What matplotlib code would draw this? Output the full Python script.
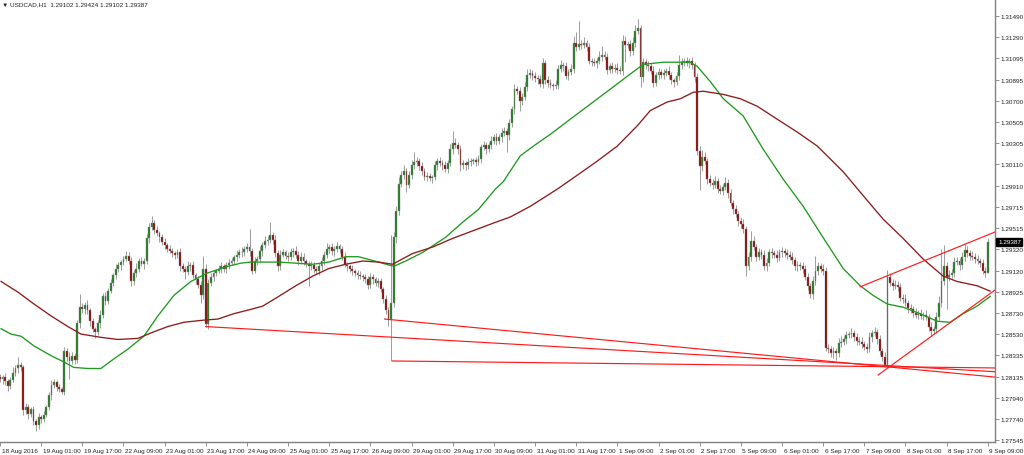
"""USDCAD H1 candles, 18 Aug - 9 Sep 2016, with two moving averages and drawn trendlines."""

import numpy as np
import matplotlib
matplotlib.use("Agg")
import matplotlib.pyplot as plt
import matplotlib.transforms as mtransforms

# ─── data ───────────────────────────────────────────────────────────────────
first_open = 1.2813

closes = [
    1.2811, 1.2813, 1.2809, 1.2805, 1.2810, 1.2817, 1.2821, 1.2824, 1.2822, 1.2782, 1.2785, 1.2779, 1.2783, 1.2772, 1.2768, 1.2776,
    1.2774, 1.2778, 1.2785, 1.2796, 1.2806, 1.2808, 1.2804, 1.2802, 1.2799, 1.2837, 1.2832, 1.2828, 1.2833, 1.2829, 1.2863, 1.2878,
    1.2876, 1.2880, 1.2875, 1.2865, 1.2858, 1.2855, 1.2863, 1.2871, 1.2888, 1.2884, 1.2893, 1.2901, 1.2908, 1.2914, 1.2917, 1.2920,
    1.2923, 1.2926, 1.2921, 1.2902, 1.2910, 1.2914, 1.2921, 1.2918, 1.2921, 1.2942, 1.2953, 1.2956, 1.2950, 1.2947, 1.2943, 1.2939,
    1.2936, 1.2932, 1.2930, 1.2928, 1.2927, 1.2929, 1.2916, 1.2914, 1.2911, 1.2916, 1.2917, 1.2908, 1.2904, 1.2899, 1.2889, 1.2914,
    1.2862, 1.2901, 1.2906, 1.2910, 1.2912, 1.2914, 1.2916, 1.2914, 1.2917, 1.2919, 1.2921, 1.2925, 1.2927, 1.2929, 1.2929, 1.2932,
    1.2934, 1.2930, 1.2912, 1.2921, 1.2923, 1.2930, 1.2936, 1.2940, 1.2941, 1.2945, 1.2941, 1.2928, 1.2916, 1.2927, 1.2929, 1.2926,
    1.2925, 1.2929, 1.2930, 1.2927, 1.2921, 1.2925, 1.2921, 1.2918, 1.2916, 1.2917, 1.2914, 1.2912, 1.2916, 1.2921, 1.2927, 1.2932,
    1.2934, 1.2930, 1.2932, 1.2935, 1.2932, 1.2925, 1.2917, 1.2916, 1.2914, 1.2912, 1.2910, 1.2908, 1.2907, 1.2906, 1.2904, 1.2899,
    1.2906, 1.2904, 1.2901, 1.2902, 1.2895, 1.2886, 1.2875, 1.2867, 1.2882, 1.2943, 1.2968, 1.2993, 1.3001, 1.3005, 1.2992, 1.3001,
    1.3010, 1.3013, 1.3014, 1.3009, 1.3005, 1.2999, 1.3000, 1.2998, 1.2999, 1.3010, 1.3014, 1.3012, 1.3010, 1.3007, 1.3012, 1.3025,
    1.3031, 1.3029, 1.3025, 1.3010, 1.3012, 1.3010, 1.3013, 1.3014, 1.3015, 1.3013, 1.3016, 1.3027, 1.3029, 1.3025, 1.3029, 1.3033,
    1.3036, 1.3033, 1.3036, 1.3040, 1.3042, 1.3038, 1.3049, 1.3062, 1.3081, 1.3079, 1.3070, 1.3074, 1.3083, 1.3094, 1.3096, 1.3093,
    1.3091, 1.3090, 1.3086, 1.3105, 1.3089, 1.3087, 1.3085, 1.3084, 1.3085, 1.3100, 1.3103, 1.3102, 1.3093, 1.3097, 1.3100, 1.3124,
    1.3120, 1.3123, 1.3122, 1.3124, 1.3120, 1.3107, 1.3106, 1.3105, 1.3107, 1.3111, 1.3113, 1.3111, 1.3099, 1.3102, 1.3100, 1.3101,
    1.3099, 1.3098, 1.3126, 1.3122, 1.3123, 1.3116, 1.3124, 1.3135, 1.3138, 1.3092, 1.3106, 1.3103, 1.3102, 1.3098, 1.3087, 1.3094,
    1.3097, 1.3094, 1.3096, 1.3098, 1.3094, 1.3089, 1.3088, 1.3093, 1.3103, 1.3106, 1.3107, 1.3105, 1.3107, 1.3103, 1.3092, 1.3023,
    1.3009, 1.3018, 1.3014, 1.2997, 1.2994, 1.2992, 1.2995, 1.2988, 1.2986, 1.2990, 1.2994, 1.2984, 1.2975, 1.2969, 1.2965, 1.2958,
    1.2955, 1.2951, 1.2916, 1.2925, 1.2940, 1.2934, 1.2925, 1.2929, 1.2927, 1.2916, 1.2919, 1.2929, 1.2928, 1.2927, 1.2924, 1.2929,
    1.2930, 1.2928, 1.2927, 1.2925, 1.2922, 1.2916, 1.2917, 1.2916, 1.2914, 1.2906, 1.2898, 1.2890, 1.2902, 1.2912, 1.2916, 1.2914,
    1.2912, 1.2840, 1.2839, 1.2835, 1.2837, 1.2835, 1.2845, 1.2846, 1.2848, 1.2852, 1.2853, 1.2854, 1.2850, 1.2847, 1.2846, 1.2844,
    1.2841, 1.2839, 1.2850, 1.2854, 1.2855, 1.2848, 1.2837, 1.2832, 1.2824, 1.2906, 1.2901, 1.2898, 1.2899, 1.2897, 1.2887, 1.2886,
    1.2882, 1.2877, 1.2876, 1.2873, 1.2871, 1.2872, 1.2870, 1.2871, 1.2869, 1.2860, 1.2856, 1.2858, 1.2869, 1.2882, 1.2902, 1.2916,
    1.2906, 1.2908, 1.2910, 1.2920, 1.2921, 1.2917, 1.2925, 1.2931, 1.2928, 1.2926, 1.2925, 1.2923, 1.2921, 1.2919, 1.2912, 1.29102,
    1.29387,
]

# wick lengths above / below the body, in pips
up_wick = [
    3, 2, 4, 2, 3, 5, 3, 8, 3, 2, 4, 3, 2, 3, 2, 4,
    2, 3, 2, 3, 4, 3, 2, 3, 2, 4, 3, 4, 3, 2, 3, 12,
    4, 3, 5, 2, 3, 2, 3, 4, 3, 4, 3, 3, 2, 4, 3, 2,
    3, 4, 3, 4, 3, 5, 3, 4, 3, 4, 3, 7, 3, 4, 2, 3,
    3, 2, 4, 3, 2, 3, 4, 3, 2, 5, 3, 4, 2, 3, 3, 12,
    4, 3, 4, 3, 2, 3, 4, 2, 3, 4, 3, 2, 4, 3, 5, 3,
    4, 17, 3, 4, 3, 5, 3, 4, 3, 12, 3, 4, 3, 4, 3, 2,
    3, 4, 3, 5, 3, 4, 3, 2, 3, 4, 3, 2, 3, 4, 3, 6,
    3, 4, 3, 4, 2, 3, 4, 3, 2, 3, 2, 3, 4, 2, 3, 3,
    4, 3, 2, 3, 3, 2, 3, 3, 63, 5, 4, 6, 4, 5, 3, 4,
    5, 9, 4, 3, 4, 3, 4, 3, 2, 4, 3, 4, 3, 4, 3, 5,
    11, 4, 3, 4, 3, 2, 4, 3, 2, 3, 4, 3, 4, 3, 3, 4,
    3, 4, 3, 5, 4, 3, 4, 3, 5, 3, 4, 3, 5, 6, 4, 3,
    4, 3, 4, 5, 3, 4, 3, 2, 4, 3, 5, 3, 4, 3, 4, 6,
    10, 21, 4, 5, 3, 4, 3, 4, 3, 5, 8, 3, 4, 3, 4, 3,
    4, 3, 5, 4, 3, 4, 5, 6, 8, 3, 4, 3, 4, 3, 4, 3,
    4, 3, 4, 3, 4, 3, 2, 4, 10, 4, 3, 4, 3, 4, 3, 4,
    5, 6, 4, 3, 4, 3, 5, 3, 4, 3, 5, 3, 4, 3, 4, 3,
    4, 5, 3, 4, 9, 4, 3, 4, 3, 4, 5, 3, 4, 3, 4, 3,
    4, 3, 4, 3, 4, 3, 4, 3, 4, 3, 4, 3, 5, 14, 4, 3,
    4, 3, 4, 3, 4, 3, 4, 5, 3, 4, 3, 5, 3, 4, 3, 4,
    3, 4, 5, 3, 5, 3, 4, 3, 4, 7, 4, 3, 4, 3, 4, 3,
    4, 3, 4, 3, 4, 3, 4, 3, 4, 3, 4, 3, 5, 6, 30, 20,
    4, 5, 4, 5, 4, 3, 4, 6, 4, 3, 4, 3, 4, 3, 4, 3,
    3.7,
]
dn_wick = [
    3, 4, 3, 5, 3, 2, 3, 4, 3, 4, 3, 5, 3, 4, 5, 3,
    4, 3, 2, 3, 4, 3, 4, 3, 2, 3, 4, 17, 3, 4, 3, 4,
    3, 4, 3, 4, 3, 6, 3, 4, 3, 4, 3, 2, 3, 4, 3, 4,
    3, 2, 3, 4, 3, 4, 3, 2, 4, 3, 4, 3, 4, 3, 4, 3,
    4, 3, 2, 3, 4, 3, 4, 3, 7, 3, 4, 3, 4, 3, 7, 3,
    2, 4, 3, 4, 3, 2, 4, 3, 4, 3, 2, 3, 4, 3, 4, 3,
    3, 4, 3, 2, 4, 3, 4, 3, 4, 3, 4, 3, 4, 3, 2, 3,
    4, 3, 4, 3, 4, 3, 4, 3, 18, 3, 4, 3, 4, 3, 4, 3,
    4, 3, 4, 3, 4, 3, 2, 4, 3, 4, 3, 4, 3, 4, 3, 4,
    3, 4, 3, 4, 3, 4, 3, 6, 39, 4, 5, 4, 3, 4, 7, 3,
    4, 3, 4, 3, 4, 3, 4, 3, 4, 3, 4, 3, 4, 3, 4, 3,
    4, 3, 4, 5, 3, 4, 3, 4, 3, 4, 3, 4, 3, 4, 3, 4,
    3, 4, 3, 4, 3, 16, 4, 3, 4, 3, 9, 4, 3, 4, 3, 4,
    3, 4, 3, 4, 3, 4, 3, 4, 3, 4, 3, 4, 3, 4, 3, 4,
    4, 3, 4, 3, 4, 3, 4, 3, 4, 3, 4, 3, 4, 3, 4, 3,
    4, 3, 4, 16, 3, 4, 3, 4, 3, 9, 4, 3, 4, 3, 4, 3,
    4, 3, 4, 3, 4, 3, 5, 3, 4, 3, 4, 3, 4, 3, 4, 3,
    22, 4, 3, 4, 3, 4, 3, 4, 3, 4, 3, 4, 3, 4, 3, 4,
    3, 4, 9, 3, 4, 3, 4, 3, 4, 3, 4, 3, 4, 3, 4, 3,
    4, 3, 4, 3, 4, 3, 4, 3, 4, 3, 4, 3, 4, 3, 4, 3,
    4, 3, 4, 3, 4, 6, 3, 4, 3, 4, 3, 4, 3, 4, 3, 4,
    3, 4, 3, 4, 3, 4, 3, 4, 2, 2, 3, 4, 3, 4, 3, 4,
    3, 4, 3, 4, 3, 4, 3, 4, 3, 4, 5, 3, 4, 3, 4, 3,
    30, 4, 3, 4, 3, 4, 3, 4, 3, 4, 3, 4, 3, 4, 3, 4,
    0,
]

# moving averages (bar index, price)
green_ma_bar = [0.4, 4.3, 8.2, 13.2, 19.8, 24.9, 28.7, 34.2, 39.2, 44.3, 49.7, 55.9, 61.4, 67.6,
                74.2, 80.8, 88.5, 93.6, 97.5, 108.3, 121.6, 127.8, 134.4, 139.4, 147.2, 153.0,
                157.7, 164.3, 173.2, 179.8, 186.0, 192.6, 195.7, 202.3, 207.4, 214.0, 221.7,
                229.5, 237.3, 245.0, 250.1, 257.9, 268.3, 271.1, 276.1, 281.2, 288.9, 296.7,
                304.5, 312.2, 320.2, 327.8, 334.4, 339.4, 344.9, 351.1, 357.7, 364.3, 369.3,
                374.4, 379.8, 384.9]
green_ma_val = [1.2858, 1.2853, 1.2851, 1.2842, 1.2833, 1.2827, 1.2822, 1.2821, 1.2821, 1.2830,
                1.2839, 1.2851, 1.2870, 1.2889, 1.2902, 1.2910, 1.2916, 1.2919, 1.2920, 1.2920,
                1.2918, 1.2920, 1.2925, 1.2925, 1.2920, 1.2916, 1.2921, 1.2929, 1.2943, 1.2957,
                1.2969, 1.2988, 1.2995, 1.3019, 1.3028, 1.3039, 1.3053, 1.3067, 1.3081, 1.3095,
                1.3104, 1.3106, 1.3106, 1.3102, 1.3088, 1.3072, 1.3056, 1.3025, 1.2997, 1.2972,
                1.2942, 1.2914, 1.2898, 1.2889, 1.2881, 1.2878, 1.2872, 1.2865, 1.2864, 1.2872,
                1.2879, 1.2888]

red_ma_bar = [0.4, 7.0, 13.2, 19.8, 26.4, 31.5, 39.2, 45.8, 53.6, 58.6, 65.2, 71.5, 79.2, 84.7,
              90.9, 97.5, 102.1, 108.3, 115.0, 121.6, 127.8, 134.4, 141.0, 147.2, 152.6, 160.4,
              168.2, 175.9, 183.7, 192.6, 198.4, 206.2, 216.7, 224.5, 232.2, 240.0, 247.8,
              252.8, 259.4, 264.5, 269.5, 273.4, 281.2, 287.8, 294.4, 302.1, 309.9, 317.7,
              327.8, 335.5, 343.3, 351.1, 358.8, 366.6, 372.0, 379.8, 384.9]
red_ma_val = [1.2902, 1.2892, 1.2881, 1.2870, 1.2860, 1.2853, 1.2850, 1.2848, 1.2849, 1.2854,
              1.2860, 1.2864, 1.2866, 1.2867, 1.2872, 1.2876, 1.2879, 1.2888, 1.2898, 1.2907,
              1.2914, 1.2918, 1.2921, 1.2920, 1.2918, 1.2928, 1.2934, 1.2942, 1.2949, 1.2957,
              1.2962, 1.2972, 1.2988, 1.3001, 1.3014, 1.3028, 1.3047, 1.3061, 1.3069, 1.3072,
              1.3078, 1.3079, 1.3076, 1.3072, 1.3065, 1.3053, 1.3041, 1.3028, 1.3004, 1.2982,
              1.2960, 1.2942, 1.2923, 1.2907, 1.2902, 1.2898, 1.2893]

# hand-drawn trendlines: start bar, start price, end bar, end price
trend_bar0 = [80.0, 149.5, 152.6, 334.4, 341.4]
trend_p0 = [1.2860, 1.2867, 1.2828, 1.2897, 1.2815]
trend_bar1 = [386.8, 386.8, 386.8, 386.8, 386.8]
trend_p1 = [1.2818, 1.2813, 1.28215, 1.2948, 1.2894]

xtick_labels = ["18 Aug 2016", "19 Aug 01:00", "19 Aug 17:00", "22 Aug 09:00", "23 Aug 01:00",
                "23 Aug 17:00", "24 Aug 09:00", "25 Aug 01:00", "25 Aug 17:00", "26 Aug 09:00",
                "29 Aug 01:00", "29 Aug 17:00", "30 Aug 09:00", "31 Aug 01:00", "31 Aug 17:00",
                "1 Sep 09:00", "2 Sep 01:00", "2 Sep 17:00", "5 Sep 09:00", "6 Sep 01:00",
                "6 Sep 17:00", "7 Sep 09:00", "8 Sep 01:00", "8 Sep 17:00", "9 Sep 09:00"]
ytick_vals = [1.31490, 1.31290, 1.31095, 1.30895, 1.30700, 1.30505, 1.30305, 1.30110, 1.29910,
              1.29715, 1.29515, 1.29320, 1.29120, 1.28925, 1.28730, 1.28530, 1.28335, 1.28135,
              1.27940, 1.27740, 1.27545]

last_price = 1.29387
header = "\u25bc USDCAD,H1  1.29102 1.29424 1.29102 1.29387"

# ─── style ───────────────────────────────────────────────────────────────────
plt.rcParams["font.family"] = ["Liberation Sans", "DejaVu Sans"]
BULL = "#1c7a1c"
BEAR = "#8b0000"
WICK = "#9c9c9c"
AXIS = "#808080"
FS = 4.6

# ─── plot ────────────────────────────────────────────────────────────────────
c = np.array(closes)
o = np.r_[first_open, c[:-1]]
top = np.maximum(o, c)
bot = np.minimum(o, c)
hi = top + np.array(up_wick) * 1e-4
lo = bot - np.array(dn_wick) * 1e-4
x = np.arange(len(c))
bull = c >= o
h = np.maximum(top - bot, 0.00003)

fig = plt.figure(figsize=(10.24, 4.56), dpi=100)
ax = fig.add_axes([0, 13 / 456, 995 / 1024, 443 / 456])

ax.vlines(x, lo, hi, color=WICK, lw=0.7, zorder=2)
ax.bar(x[bull], h[bull], bottom=bot[bull], width=0.72, color=BULL,
       edgecolor="#8a8a8a", linewidth=0.3, zorder=3)
ax.bar(x[~bull], h[~bull], bottom=bot[~bull], width=0.72, color=BEAR,
       edgecolor="#8a8a8a", linewidth=0.3, zorder=3)

ax.plot(green_ma_bar, green_ma_val, color="#1e9a1e", lw=0.95, zorder=4)
ax.plot(red_ma_bar, red_ma_val, color="#8e1b1b", lw=0.95, zorder=4)

for b0, p0, b1, p1 in zip(trend_bar0, trend_p0, trend_bar1, trend_p1):
    ax.plot([b0, b1], [p0, p1], color="#ff1a1a", lw=0.85, zorder=5)

ax.set_xlim(0.39, 386.8)
ax.set_ylim(1.27526, 1.31648)

for side in ("top", "left"):
    ax.spines[side].set_visible(False)
for side in ("right", "bottom"):
    ax.spines[side].set_color(AXIS)
    ax.spines[side].set_linewidth(1.0)

ax.yaxis.tick_right()
ax.set_yticks(ytick_vals)
ax.set_yticklabels([f"{v:.5f}" for v in ytick_vals])
ax.set_xticks(np.arange(0, 16 * len(xtick_labels), 16))
ax.set_xticklabels(xtick_labels)
ax.tick_params(axis="both", length=3, width=0.6, color=AXIS, pad=1,
               labelsize=FS, labelcolor="#202020")

shift = mtransforms.ScaledTranslation(1.5 / 100, 0, fig.dpi_scale_trans)
for lab in ax.get_xticklabels():
    lab.set_ha("left")
    lab.set_transform(lab.get_transform() + shift)

ax.text(1.003, last_price, "1.29387", transform=ax.get_yaxis_transform(),
        color="white", fontsize=FS, ha="left", va="center", clip_on=False, zorder=6,
        bbox=dict(facecolor="black", edgecolor="black", boxstyle="square,pad=0.25"))

fig.text(2 / 1024, 1 - 5 / 456, header, fontsize=FS, ha="left", va="center", color="#202020")

fig.savefig("out.png", dpi=100)
